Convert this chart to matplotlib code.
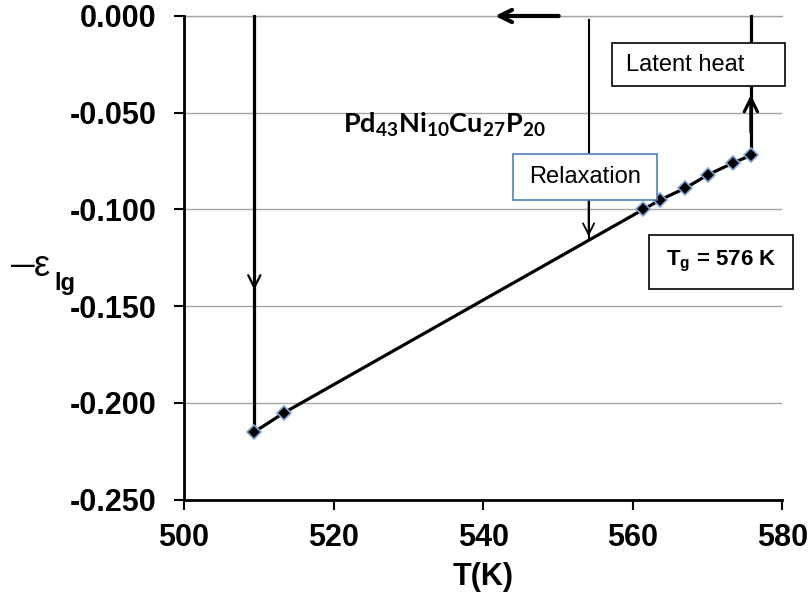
import matplotlib
matplotlib.use("Agg")
import matplotlib.pyplot as plt
from matplotlib.patches import Rectangle

plt.rcParams['font.family'] = ['Liberation Sans', 'DejaVu Sans']
plt.rcParams['mathtext.fontset'] = 'custom'
plt.rcParams['mathtext.rm'] = 'Liberation Sans:bold'
plt.rcParams['mathtext.it'] = 'Liberation Sans:bold'
plt.rcParams['mathtext.bf'] = 'Lato:bold'

# Measured excess liquid-glass strain vs temperature
T_K = [509.4, 513.4, 561.4, 563.7, 567.0, 570.1, 573.4, 575.8]
eps_lg = [-0.215, -0.205, -0.100, -0.095, -0.089, -0.082, -0.076, -0.072]

Tg = 576
T_relax = 554.1
T_left_arrow = (550.1, 541.6)

x_ticks = [500, 520, 540, 560, 580]
y_ticks = [0.000, -0.050, -0.100, -0.150, -0.200, -0.250]

fig = plt.figure(figsize=(8.1, 6.01), dpi=100)
ax = fig.add_axes([0.2272, 0.1686, 0.7386, 0.8048])

ax.set_xlim(500, 580)
ax.set_ylim(-0.25, 0.0)
ax.set_xticks(x_ticks)
ax.set_yticks(y_ticks)
ax.set_xticklabels([str(t) for t in x_ticks], fontweight='bold', fontsize=22)
ax.set_yticklabels([f"{v:.3f}" for v in y_ticks], fontweight='bold', fontsize=22)
ax.tick_params(axis='both', direction='out', length=7, width=1.5, color='black')
ax.tick_params(axis='y', pad=13)
ax.tick_params(axis='x', pad=10)

for s in ['top', 'right']:
    ax.spines[s].set_visible(False)
for s in ['left', 'bottom']:
    ax.spines[s].set_linewidth(2)
    ax.spines[s].set_zorder(5)

ax.yaxis.grid(True, color='#a6a6a6', linewidth=1)
ax.set_axisbelow(True)
# gridline at the top edge
ax.axhline(0.0, color='#a6a6a6', linewidth=1, zorder=0.5, clip_on=False)

ax.set_xlabel('T(K)', fontsize=22, fontweight='bold', labelpad=6)

# main data line with diamond markers
ax.plot(T_K, eps_lg, color='black', lw=2.3, zorder=3)
ax.plot(T_K, eps_lg, linestyle='none', marker='D', markersize=7,
        markerfacecolor='black', markeredgecolor='#7ea6d8', markeredgewidth=1.2,
        zorder=4)

# cooling path at the low-temperature end
x0, y0 = T_K[0], eps_lg[0]
ax.plot([x0, x0], [0.0, y0], color='black', lw=2.3, zorder=3, clip_on=False)
ax.annotate('', xy=(x0, -0.1416), xytext=(x0, -0.12),
            arrowprops=dict(arrowstyle='->', color='black', lw=1.6,
                            mutation_scale=22, shrinkA=0, shrinkB=0), zorder=3)

# heating path at Tg
x1, y1 = T_K[-1], eps_lg[-1]
ax.plot([x1, x1], [y1, 0.0], color='black', lw=2.3, zorder=3, clip_on=False)
ax.annotate('', xy=(x1, -0.0408), xytext=(x1, -0.06),
            arrowprops=dict(arrowstyle='->', color='black', lw=2.3,
                            mutation_scale=24, shrinkA=0, shrinkB=0), zorder=3)

# relaxation drop
y_line = eps_lg[1] + (T_relax - T_K[1]) * (eps_lg[2] - eps_lg[1]) / (T_K[2] - T_K[1])
ax.plot([T_relax, T_relax], [-0.002, y_line], color='black', lw=1.5, zorder=3)
ax.annotate('', xy=(T_relax, y_line + 0.002), xytext=(T_relax, y_line + 0.03),
            arrowprops=dict(arrowstyle='->', color='black', lw=1.3,
                            mutation_scale=20, shrinkA=0, shrinkB=0), zorder=3)

# leftward arrow on the top edge
ax.annotate('', xy=(T_left_arrow[1], 0.0), xytext=(T_left_arrow[0], 0.0),
            arrowprops=dict(arrowstyle='->', color='black', lw=3,
                            mutation_scale=22, shrinkA=0, shrinkB=0),
            zorder=4, annotation_clip=False)

# label boxes
def box(x0, x1, y0, y1, ec):
    r = Rectangle((x0, y0), x1 - x0, y1 - y0, facecolor='white', edgecolor=ec,
                  linewidth=1.2, zorder=6, clip_on=False)
    ax.add_patch(r)

box(557.2, 580.3, -0.0362, -0.0140, 'black')
ax.text(567.0, -0.0251, 'Latent heat', fontsize=17, ha='center', va='center', zorder=7)

box(543.98, 563.24, -0.0951, -0.0713, '#4f81bd')
ax.text(553.6, -0.0832, 'Relaxation', fontsize=17, ha='center', va='center', zorder=7)

box(562.2, 581.4, -0.1411, -0.1132, 'black')
ax.text(571.8, -0.1271, r'$\mathrm{T_g}$ = 576 K', fontsize=16, fontweight='bold',
        ha='center', va='center', zorder=7, clip_on=False)

# alloy composition
ax.text(343 / 810, 1 - 133 / 601, r'$\mathbf{Pd_{43}Ni_{10}Cu_{27}P_{20}}$',
        transform=fig.transFigure, fontsize=19.5, ha='left', va='baseline')

# y-axis label
fig.text(11 / 810, 1 - 272 / 601, '\u2014', fontsize=17, fontweight='bold',
         ha='left', va='baseline')
fig.text(34 / 810, 1 - 276 / 601, '\u03b5', fontsize=26,
         ha='left', va='baseline')
fig.text(54 / 810, 1 - 290 / 601, 'lg', fontsize=17, fontweight='bold',
         ha='left', va='baseline')

fig.savefig('out.png', dpi=100)
